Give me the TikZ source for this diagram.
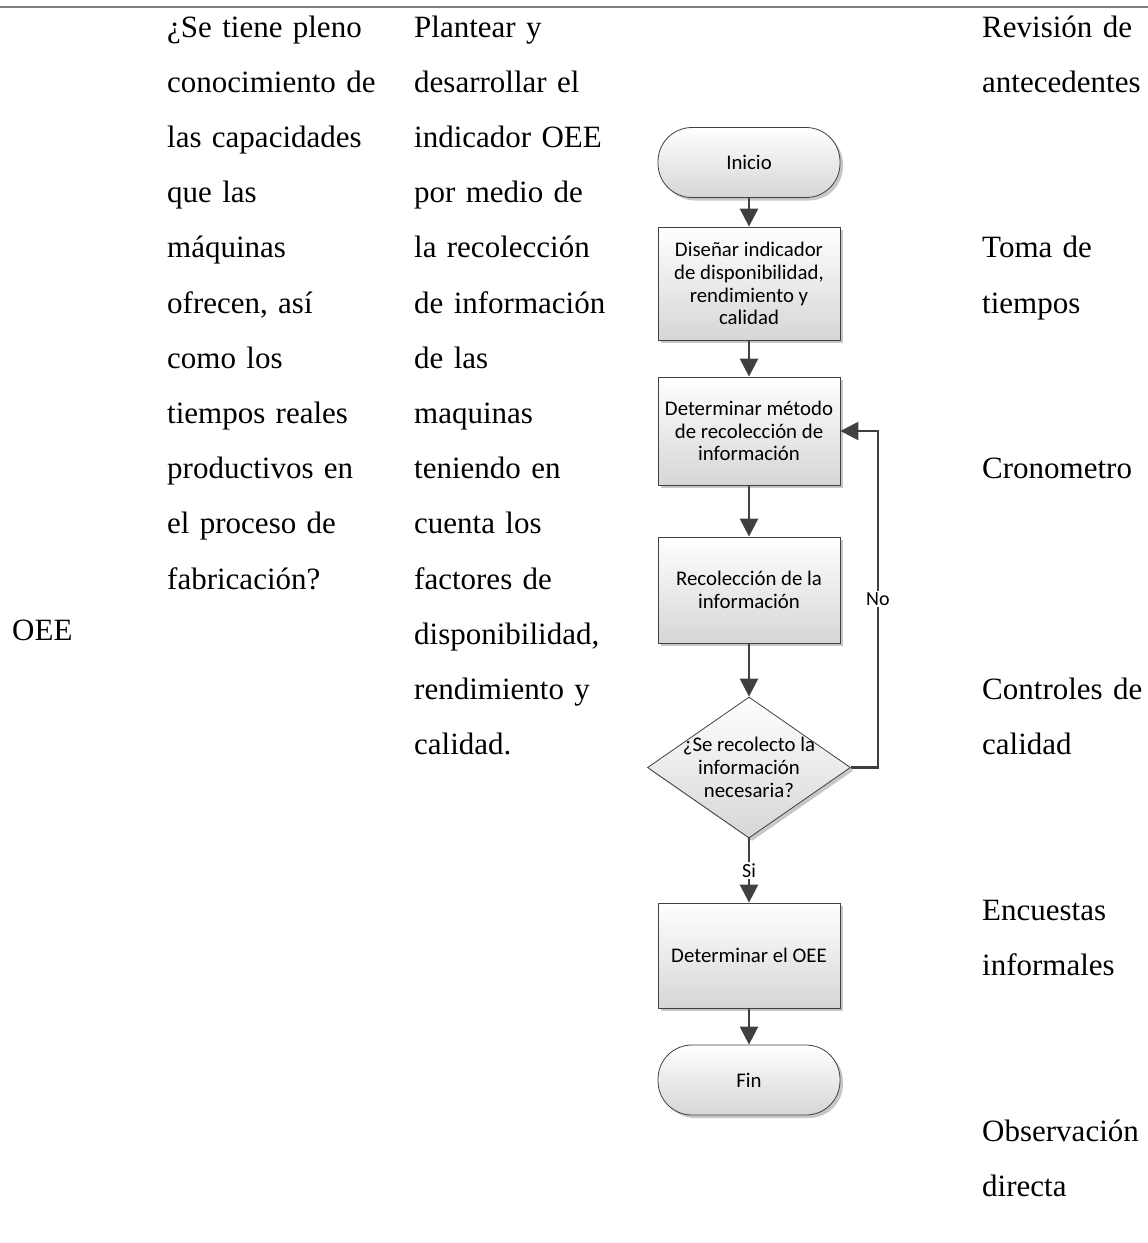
\documentclass[tikz,border=0pt]{standalone}
\usepackage{fontspec}
\setmainfont{Liberation Serif}
\newfontfamily\flowfont{Carlito}
\usetikzlibrary{arrows.meta,shadows,shapes.geometric}

\definecolor{lineclr}{RGB}{64,64,64}
\definecolor{shadeclr}{RGB}{214,214,214}

\tikzset{
  cell/.style={anchor=base west, inner sep=0pt, align=left, text width=250pt,
    font=\fontsize{31}{55.2}\selectfont},
  flow/.style={font=\flowfont\fontsize{20.8}{22.7}\selectfont, align=center,
    draw=lineclr, line width=0.8pt, top color=white, bottom color=shadeclr,
    drop shadow={shadow xshift=3pt, shadow yshift=-3pt, opacity=0.22, fill=black}},
  procbox/.style={flow, rectangle, minimum width=182pt, inner sep=2pt},
  term/.style={flow, rectangle, rounded corners=34pt, minimum width=182pt, minimum height=70pt},
  decision/.style={flow, diamond, minimum width=203pt, minimum height=141pt, inner sep=0pt},
  flowtext/.style={font=\flowfont\fontsize{20.8}{22.7}\selectfont, align=center, inner sep=0pt},
  arrow/.style={draw=lineclr, line width=2.6pt, -{Triangle[width=18pt,length=18pt]}},
  lbl/.style={font=\flowfont\fontsize{20}{22}\selectfont, fill=white, inner sep=1.5pt},
}

\begin{document}
\begin{tikzpicture}[x=1pt,y=-1pt]
  \useasboundingbox (0,0) rectangle (1148,1243);

  % table rule
  \draw[black!50, line width=2pt] (0,7) -- (1148,7);

  % table cells
  \node[cell] (oee) at (12,640) {OEE};
  \node[cell] (pregunta) at (167,37) {¿Se tiene pleno\\conocimiento de\\las capacidades\\que las\\máquinas\\ofrecen, así\\como los\\tiempos reales\\productivos en\\el proceso de\\fabricación?};
  \node[cell] (objetivo) at (414,37) {Plantear y\\desarrollar el\\indicador OEE\\por medio de\\la recolección\\de información\\de las\\maquinas\\teniendo en\\cuenta los\\factores de\\disponibilidad,\\rendimiento y\\calidad.};
  \node[cell] (tec1) at (982,37) {Revisión de\\antecedentes};
  \node[cell] (tec2) at (982,257.8) {Toma de\\tiempos};
  \node[cell] (tec3) at (982,478.6) {Cronometro};
  \node[cell] (tec4) at (982,699.4) {Controles de\\calidad};
  \node[cell] (tec5) at (982,920.2) {Encuestas\\informales};
  \node[cell] (tec6) at (982,1141) {Observación\\directa};

  % flowchart
  \node[term] (inicio) at (749,162.5) {Inicio};
  \node[procbox, minimum height=113pt] (b1) at (749,283.5) {Diseñar indicador\\de disponibilidad,\\rendimiento y\\calidad};
  \node[procbox, minimum height=108pt] (b2) at (749,431) {Determinar método\\de recolección de\\información};
  \node[procbox, minimum height=106pt] (b3) at (749,590) {Recolección de la\\información};
  \node[decision, label={[flowtext]center:¿Se recolecto la\\información\\necesaria?}] (dec) at (749,767.5) {};
  \node[procbox, minimum height=105pt] (b4) at (749,955.5) {Determinar el OEE};
  \node[term] (fin) at (749,1080) {Fin};

  \draw[arrow] (inicio) -- (b1);
  \draw[arrow] (b1) -- (b2);
  \draw[arrow] (b2) -- (b3);
  \draw[arrow] (b3) -- (dec);
  \draw[arrow] (dec) -- node[lbl, pos=0.5] {Si} (b4);
  \draw[arrow] (b4) -- (fin);
  \draw[arrow] (dec.east) -- ++(27,0) |- node[lbl, pos=0.25] {No} (b2.east);
\end{tikzpicture}
\end{document}
